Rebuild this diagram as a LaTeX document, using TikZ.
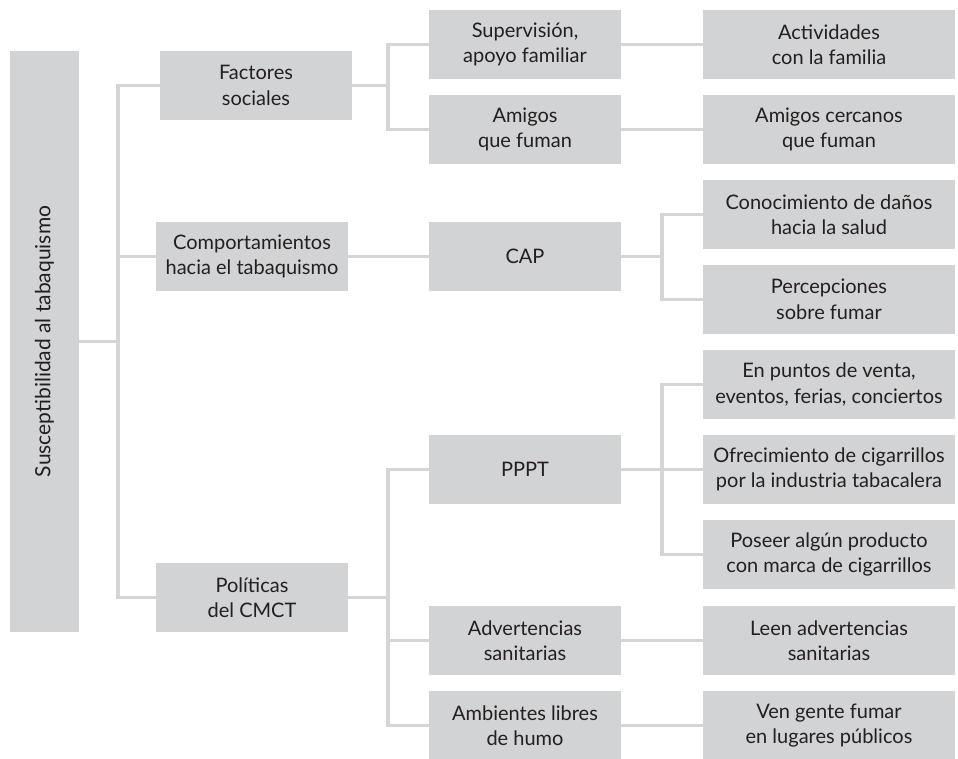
\documentclass[tikz,border=0pt]{standalone}
\usepackage{fontspec}
\setmainfont{Lato}
\definecolor{boxgray}{HTML}{D1D3D4}
\definecolor{linegray}{HTML}{D4D5D7}
\definecolor{txt}{HTML}{231F20}
\begin{document}
\begin{tikzpicture}[x=1pt,y=-1pt,
  nbox/.style={fill=boxgray,inner sep=0pt,align=center,text=txt,
    font=\fontsize{20}{25.5}\selectfont},
  lvA/.style={nbox,minimum width=192pt,minimum height=69pt},
  lvC/.style={nbox,minimum width=252pt,minimum height=69pt},
  conn/.style={draw=linegray,line width=3.5pt}]
\useasboundingbox (0,0) rectangle (958,758);
% root
\node[nbox,minimum width=69pt,minimum height=581pt] (root) at (44.5,341.5) {};
\node[rotate=90,text=txt,font=\fontsize{21}{25}\selectfont] (roottxt) at (root.center) {Susceptibilidad al tabaquismo};
% level 1
\node[lvA] (f) at (256,85.5) {Factores\\sociales};
\node[lvA] (c) at (252,256.5) {Comportamientos\\hacia el tabaquismo};
\node[lvA] (p) at (252,597.5) {Políticas\\del CMCT};
% level 2
\node[lvA] (s1) at (525,44.5) {Supervisión,\\apoyo familiar};
\node[lvA] (s2) at (525,129.5) {Amigos\\que fuman};
\node[lvA] (cap) at (525,256.5) {CAP};
\node[lvA] (pppt) at (525,469.5) {PPPT};
\node[lvA] (adv) at (525,640.5) {Advertencias\\sanitarias};
\node[lvA] (amb) at (525,725.5) {Ambientes libres\\de humo};
% level 3
\node[lvC] (a1) at (829,44.5) {Actividades\\con la familia};
\node[lvC] (a2) at (829,129.5) {Amigos cercanos\\que fuman};
\node[lvC] (k1) at (829,214.5) {Conocimiento de daños\\hacia la salud};
\node[lvC] (k2) at (829,299.5) {Percepciones\\sobre fumar};
\node[lvC] (e1) at (829,384.5) {En puntos de venta,\\eventos, ferias, conciertos};
\node[lvC] (e2) at (829,469.5) {Ofrecimiento de cigarrillos\\por la industria tabacalera};
\node[lvC] (e3) at (829,554.5) {Poseer algún producto\\con marca de cigarrillos};
\node[lvC] (l1) at (829,640.5) {Leen advertencias\\sanitarias};
\node[lvC] (v1) at (829,725.5) {Ven gente fumar\\en lugares públicos};
% junctions
\coordinate (t0) at (118,341.5);
\coordinate (t1) at (388,85.5);
\coordinate (t2) at (662,256.5);
\coordinate (t3) at (388,597.5);
\coordinate (t4) at (662,469.5);
% connectors
\draw[conn] (root.east) -- (t0);
\draw[conn] (t0) |- (f.west);
\draw[conn] (t0) |- (c.west);
\draw[conn] (t0) |- (p.west);
\draw[conn] (f.east) -- (t1);
\draw[conn] (t1) |- (s1.west);
\draw[conn] (t1) |- (s2.west);
\draw[conn] (s1.east) -- (a1.west);
\draw[conn] (s2.east) -- (a2.west);
\draw[conn] (c.east) -- (cap.west);
\draw[conn] (cap.east) -- (t2);
\draw[conn] (t2) |- (k1.west);
\draw[conn] (t2) |- (k2.west);
\draw[conn] (p.east) -- (t3);
\draw[conn] (t3) |- (pppt.west);
\draw[conn] (t3) |- (adv.west);
\draw[conn] (t3) |- (amb.west);
\draw[conn] (pppt.east) -- (t4);
\draw[conn] (t4) |- (e1.west);
\draw[conn] (t4) |- (e2.west);
\draw[conn] (t4) |- (e3.west);
\draw[conn] (adv.east) -- (l1.west);
\draw[conn] (amb.east) -- (v1.west);
\end{tikzpicture}
\end{document}
